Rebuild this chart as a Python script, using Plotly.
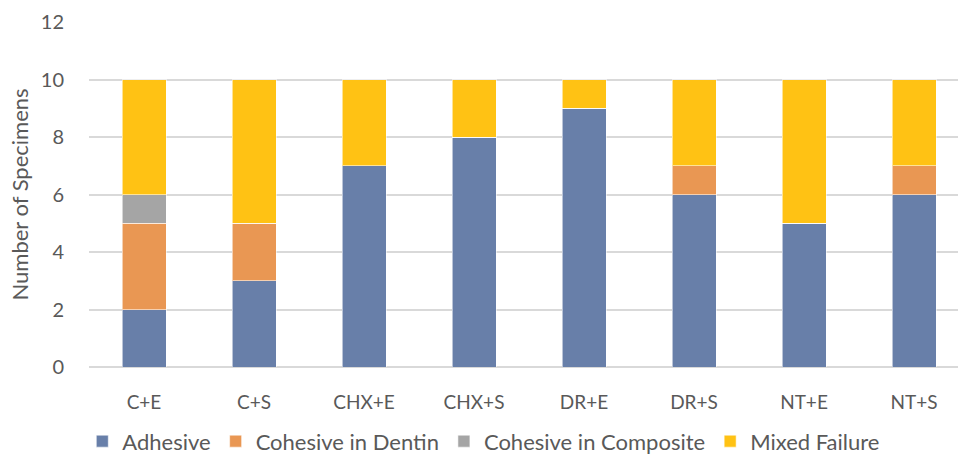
import plotly.graph_objects as go

categories = ["C+E", "C+S", "CHX+E", "CHX+S", "DR+E", "DR+S", "NT+E", "NT+S"]
adhesive = [2, 3, 7, 8, 9, 6, 5, 6]
cohesive_dentin = [3, 2, 0, 0, 0, 1, 0, 1]
cohesive_composite = [1, 0, 0, 0, 0, 0, 0, 0]
mixed_failure = [4, 5, 3, 2, 1, 3, 5, 3]
y_ticks = [0, 2, 4, 6, 8, 10, 12]

series = [
    ("Adhesive", adhesive, "#687FA9"),
    ("Cohesive in Dentin", cohesive_dentin, "#E99753"),
    ("Cohesive in Composite", cohesive_composite, "#A5A5A5"),
    ("Mixed Failure", mixed_failure, "#FFC214"),
]

FONT = "Lato"
TXT = "#595959"

fig = go.Figure()
for name, vals, color in series:
    fig.add_trace(go.Bar(
        x=categories, y=vals, name=name,
        marker=dict(color=color, line=dict(color="rgba(255,255,255,0.55)", width=1)),
        width=0.4,
    ))

fig.update_layout(
    barmode="stack",
    width=958, height=455,
    margin=dict(l=89, r=0, t=22, b=88, autoexpand=False),
    paper_bgcolor="white", plot_bgcolor="white",
    font=dict(family=FONT, color=TXT),
    showlegend=True,
    legend=dict(
        orientation="h", xref="container", x=0.505, xanchor="center",
        yref="container", y=0.03, yanchor="middle",
        font=dict(size=22, color=TXT, family=FONT),
        traceorder="normal", itemclick=False,
    ),
    xaxis=dict(
        range=[-0.5, 7.4], showgrid=False, zeroline=False, showline=False,
        ticks="outside", ticklen=18, tickcolor="rgba(0,0,0,0)",
        tickfont=dict(size=19, color=TXT, family=FONT),
    ),
    yaxis=dict(
        range=[0, 12], tickvals=y_ticks, showgrid=True, gridcolor="#D9D9D9", gridwidth=1.5,
        zeroline=True, zerolinecolor="#D9D9D9", zerolinewidth=1.5, showline=False,
        ticks="outside", ticklen=20, tickcolor="rgba(0,0,0,0)",
        tickfont=dict(size=20, color=TXT, family=FONT),
        title=dict(text="Number of Specimens", font=dict(size=22, color=TXT, family=FONT), standoff=6),
    ),
)

fig.write_html(
    "out.html",
    config={"displayModeBar": False},
    post_script="document.body.style.margin='0';document.body.style.overflow='hidden';",
)
